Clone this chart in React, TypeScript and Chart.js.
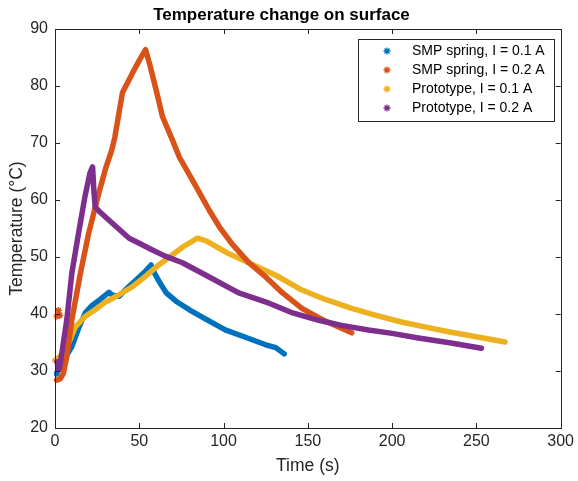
import React, { useEffect, useRef } from 'react';
import { Chart, registerables } from 'chart.js';

Chart.register(...registerables);

const FONT = 'Liberation Sans, Arial, Helvetica, sans-serif';
const TEXT = '#262626';

const xTickValues = [0, 50, 100, 150, 200, 250, 300];
const yTickValues = [20, 30, 40, 50, 60, 70, 80, 90];

const seriesLabels = [
  'SMP spring, I = 0.1 A',
  'SMP spring, I = 0.2 A',
  'Prototype, I = 0.1 A',
  'Prototype, I = 0.2 A',
];
const seriesColors = ['#0072BD', '#D95319', '#EDB120', '#7E2F8E'];

const smp01Time = [1, 2, 4, 7, 10, 14, 18, 22, 27, 32, 34, 38, 42, 46, 50, 54, 57, 59, 62, 66, 72, 80, 90, 101, 115, 125, 131, 136];
const smp01Temp = [29.5, 30.5, 30.8, 32.8, 34.3, 37.5, 40.2, 41.5, 42.6, 43.8, 43.3, 43.1, 44.3, 45.4, 46.5, 47.6, 48.6, 47.2, 45.6, 43.7, 42.2, 40.7, 39.0, 37.2, 35.7, 34.6, 34.1, 33.0];

const smp02Time = [1, 3, 5, 7, 10, 15, 20, 26, 30, 33.7, 35.5, 40, 46, 50, 53.7, 56, 60, 63.8, 69.7, 73.8, 83.8, 91.5, 97.5, 105, 115, 125, 135, 146.5, 160, 176];
const smp02Temp = [28.4, 28.6, 29.6, 32.5, 39, 47, 54.2, 61.2, 65.5, 68.8, 71, 78.8, 82.3, 84.5, 86.4, 84, 79.3, 74.6, 70.5, 67.5, 62.3, 58.2, 55.3, 52.3, 49, 46.5, 43.7, 41, 38.8, 36.7];

const smp02OutlierTime = [1.2, 2, 2.8];
const smp02OutlierTemp = [39.6, 40.6, 39.8];

const proto01Time = [0, 2, 6, 12, 17.7, 24, 29.5, 37, 45.5, 52, 56, 62, 68, 76, 84.5, 90, 95.7, 103, 111, 120, 131, 146.5, 160, 176, 190, 205.5, 220, 235, 250, 267];
const proto01Temp = [31.9, 32.3, 33.4, 37.7, 39.5, 40.8, 42, 43.2, 44.7, 46.2, 47.2, 48.7, 50, 51.8, 53.3, 52.8, 51.8, 50.6, 49.5, 48.3, 46.8, 44.2, 42.6, 41, 39.8, 38.6, 37.7, 36.8, 36, 35.1];

const proto02Time = [1.2, 2.4, 4, 7, 10, 14, 17.7, 20.7, 22.3, 23, 23.8, 27, 33.7, 44, 50, 56, 65, 75.6, 91.5, 109, 127, 140, 156.5, 170, 186, 200, 215.6, 235, 253];
const proto02Temp = [31.6, 30.2, 33, 39, 47.2, 54.2, 60.5, 64.7, 65.8, 62, 58.8, 57.8, 56, 53.3, 52.4, 51.5, 50.2, 49, 46.5, 43.7, 41.9, 40.3, 38.9, 38, 37.2, 36.6, 35.8, 34.9, 34];

const seriesTimes = [smp01Time, smp02Time, proto01Time, proto02Time];
const seriesTemps = [smp01Temp, smp02Temp, proto01Temp, proto02Temp];
const drawOrder = [4, 2, 3, 1];

function drawStar(ctx: CanvasRenderingContext2D, x: number, y: number, r: number) {
  ctx.beginPath();
  ctx.moveTo(x - r, y);
  ctx.lineTo(x + r, y);
  ctx.moveTo(x, y - r);
  ctx.lineTo(x, y + r);
  const d = r * 0.72;
  ctx.moveTo(x - d, y - d);
  ctx.lineTo(x + d, y + d);
  ctx.moveTo(x - d, y + d);
  ctx.lineTo(x + d, y - d);
  ctx.stroke();
}

const framePlugin = {
  id: 'frameTicks',
  afterDatasetsDraw(chart: any) {
    const { ctx, chartArea } = chart;
    const { left, right, top, bottom } = chartArea;
    const xs = chart.scales.x;
    const ys = chart.scales.y;
    ctx.save();
    ctx.strokeStyle = TEXT;
    ctx.lineWidth = 1;
    ctx.strokeRect(Math.round(left) + 0.5, Math.round(top) + 0.5, Math.round(right - left), Math.round(bottom - top));
    const tl = 5;
    ctx.beginPath();
    xTickValues.forEach((v) => {
      const px = Math.round(xs.getPixelForValue(v)) + 0.5;
      ctx.moveTo(px, bottom);
      ctx.lineTo(px, bottom - tl);
      ctx.moveTo(px, top);
      ctx.lineTo(px, top + tl);
    });
    yTickValues.forEach((v) => {
      const py = Math.round(ys.getPixelForValue(v)) + 0.5;
      ctx.moveTo(left, py);
      ctx.lineTo(left + tl, py);
      ctx.moveTo(right, py);
      ctx.lineTo(right - tl, py);
    });
    ctx.stroke();
    ctx.restore();
  },
};

const legendPlugin = {
  id: 'insideLegend',
  afterDraw(chart: any) {
    const { ctx } = chart;
    const bx = 358, by = 39, bw = 196, bh = 82;
    ctx.save();
    ctx.fillStyle = '#ffffff';
    ctx.fillRect(bx, by, bw, bh);
    ctx.strokeStyle = TEXT;
    ctx.lineWidth = 1;
    ctx.strokeRect(bx + 0.5, by + 0.5, bw, bh);
    ctx.font = `14px ${FONT}`;
    ctx.textBaseline = 'middle';
    ctx.textAlign = 'left';
    chart.data.datasets.slice(0, seriesLabels.length).forEach((ds: any, i: number) => {
      const y = by + 12 + i * 19;
      ctx.strokeStyle = ds.borderColor;
      ctx.lineWidth = 1.3;
      drawStar(ctx, 387, y, 3.5);
      ctx.fillStyle = '#000000';
      ctx.fillText(ds.label, 412, y + 0.5);
    });
    ctx.restore();
  },
};

export default function App() {
  const canvasRef = useRef<HTMLCanvasElement | null>(null);

  useEffect(() => {
    document.body.style.margin = '0';
    const canvas = canvasRef.current;
    if (!canvas) return;
    const datasets: any[] = seriesLabels.map((label, i) => ({
      label,
      data: seriesTimes[i].map((t, k) => ({ x: t, y: seriesTemps[i][k] })),
      borderColor: seriesColors[i],
      backgroundColor: seriesColors[i],
      borderWidth: 5.5,
      pointRadius: 0,
      pointHoverRadius: 0,
      showLine: true,
      tension: 0,
      borderJoinStyle: 'round',
      borderCapStyle: 'round',
      fill: false,
      clip: false,
      order: drawOrder[i],
    }));
    datasets.push({
      label: 'SMP spring outliers',
      data: smp02OutlierTime.map((t, k) => ({ x: t, y: smp02OutlierTemp[k] })),
      borderColor: seriesColors[1],
      backgroundColor: seriesColors[1],
      borderWidth: 1.5,
      pointStyle: 'star',
      pointRadius: 3.5,
      showLine: false,
      clip: false,
      order: 2,
    });

    const chart = new Chart(canvas, {
      type: 'scatter',
      data: { datasets },
      options: {
        animation: false,
        responsive: false,
        devicePixelRatio: 1,
        layout: { padding: { left: 0, right: 15, top: 0, bottom: 0 } },
        plugins: {
          legend: { display: false },
          tooltip: { enabled: false },
          title: {
            display: true,
            text: 'Temperature change on surface',
            color: '#000000',
            font: { family: FONT, size: 17, weight: 'bold' },
            padding: { top: 5, bottom: 3.6 },
          },
        },
        scales: {
          x: {
            type: 'linear',
            min: 0,
            max: 300,
            afterFit: (s: any) => { s.height = 53; },
            grid: { display: false, drawTicks: false },
            border: { display: false },
            ticks: {
              stepSize: 50,
              maxRotation: 0,
              autoSkip: false,
              padding: 4,
              color: TEXT,
              font: { family: FONT, size: 16 },
            },
            title: {
              display: true,
              text: 'Time (s)',
              color: TEXT,
              font: { family: FONT, size: 17.5 },
              padding: { top: 0, bottom: 4.5 },
            },
          },
          y: {
            type: 'linear',
            min: 20,
            max: 90,
            afterFit: (s: any) => { s.width = 55; },
            grid: { display: false, drawTicks: false },
            border: { display: false },
            ticks: {
              stepSize: 10,
              autoSkip: false,
              padding: 7,
              color: TEXT,
              font: { family: FONT, size: 16 },
            },
            title: {
              display: true,
              text: 'Temperature (°C)',
              color: TEXT,
              font: { family: FONT, size: 17.5 },
              padding: { top: 6.5, bottom: 0 },
            },
          },
        },
      },
      plugins: [framePlugin, legendPlugin],
    });
    return () => chart.destroy();
  }, []);

  return (
    <div style={{ width: 578, height: 481, background: '#ffffff' }}>
      <canvas ref={canvasRef} width={578} height={481} style={{ display: 'block' }} />
    </div>
  );
}
